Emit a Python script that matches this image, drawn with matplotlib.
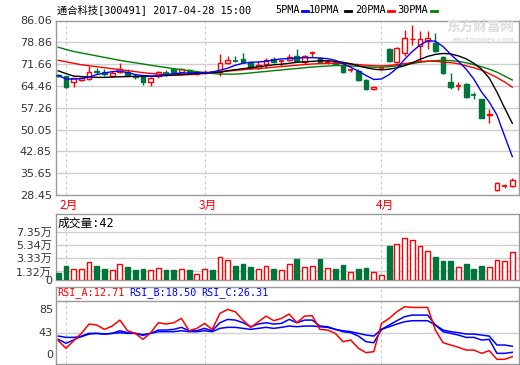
import matplotlib
matplotlib.use("Agg")
import matplotlib.pyplot as plt
from matplotlib.lines import Line2D
from matplotlib.transforms import blended_transform_factory

plt.rcParams['font.family'] = ['DejaVu Sans', 'Noto Sans CJK SC']

# 通合科技 daily bars, 2017-01-26 .. 2017-04-28 (60 sessions)
opens = [68.0, 67.6, 65.66, 66.3, 66.74, 69.5, 68.9, 67.8, 68.9, 69.1,
         67.7, 67.6, 65.9, 67.8, 69.0, 70.0, 69.1, 69.8, 68.4, 68.7,
         69.2, 68.92, 72.16, 72.8, 73.24, 72.2, 70.4, 71.6, 73.24, 72.4,
         73.0, 74.5, 72.2, 75.0, 73.8, 72.2, 72.7, 70.9, 69.5, 69.4,
         66.5, 63.6, 70.5, 76.5, 72.2, 75.4, 79.8, 77.5, 79.2, 78.7,
         74.0, 65.7, 64.4, 65.1, 61.5, 60.06, 55.0, 30.13, 31.35, 31.45]
highs = [68.3, 67.9, 67.2, 67.5, 71.07, 70.5, 69.9, 69.3, 72.15, 70.2,
         68.4, 67.9, 67.3, 69.5, 69.7, 70.4, 70.4, 70.2, 69.5, 69.8,
         69.4, 74.86, 74.3, 74.3, 75.2, 72.4, 72.7, 73.8, 74.1, 72.9,
         74.86, 76.5, 74.6, 75.9, 74.1, 72.9, 73.0, 71.2, 70.5, 70.0,
         66.8, 64.4, 70.5, 77.0, 77.3, 83.0, 84.6, 82.7, 82.7, 81.9,
         74.3, 68.6, 65.7, 65.4, 62.4, 60.3, 56.75, 32.86, 32.1, 33.99]
lows = [67.3, 63.9, 64.0, 66.0, 66.5, 68.4, 67.6, 67.5, 68.6, 67.6,
        66.7, 64.9, 64.6, 67.0, 67.8, 69.0, 68.9, 68.7, 68.2, 68.4,
        68.7, 67.6, 71.6, 72.2, 72.2, 70.2, 70.0, 70.5, 72.0, 71.1,
        72.8, 72.5, 71.6, 74.1, 72.2, 71.6, 71.4, 68.7, 68.9, 66.2,
        63.0, 63.1, 70.5, 72.5, 71.9, 74.3, 78.1, 72.3, 76.5, 75.6,
        68.3, 63.5, 63.2, 60.5, 60.2, 53.8, 52.33, 29.9, 30.68, 31.2]
closes = [67.6, 64.0, 66.96, 66.96, 69.2, 69.2, 68.5, 68.7, 69.99, 68.1,
          67.3, 65.9, 67.0, 69.1, 68.8, 69.2, 70.2, 68.9, 69.1, 69.2,
          69.0, 71.94, 73.0, 72.6, 72.36, 70.5, 71.3, 73.0, 72.2, 72.6,
          74.1, 72.7, 74.3, 75.2, 72.5, 72.4, 71.7, 69.2, 69.7, 66.5,
          63.3, 64.1, 70.5, 72.7, 77.0, 80.3, 80.1, 80.0, 80.3, 75.9,
          68.6, 64.2, 64.6, 60.8, 61.3, 53.98, 55.3, 32.33, 31.55, 33.42]

ma5 = [67.88, 66.74, 66.74, 66.90, 67.39, 68.20, 68.69, 69.18, 69.34, 68.85,
       68.20, 67.88, 67.71, 67.88, 68.20, 68.53, 68.69, 68.69, 68.85, 68.85,
       69.01, 69.66, 70.31, 71.29, 71.94, 72.26, 72.36, 72.58, 73.07, 73.40,
       73.46, 73.66, 73.79, 73.79, 73.66, 73.46, 72.91, 71.77, 70.64, 69.34,
       67.88, 66.58, 66.74, 68.20, 70.31, 73.23, 75.83, 77.94, 79.40, 79.24,
       77.46, 74.86, 72.58, 69.99, 66.74, 62.46, 59.16, 54.87, 47.94, 41.11]
ma10 = [69.44, 68.53, 67.71, 67.55, 67.39, 67.29, 67.29, 67.39, 67.49, 67.55,
        67.62, 67.62, 67.62, 67.71, 67.88, 68.04, 68.20, 68.36, 68.53, 68.69,
        68.85, 69.01, 69.50, 69.82, 70.15, 70.47, 70.80, 71.12, 71.45, 71.61,
        71.94, 72.26, 72.42, 72.58, 72.75, 72.75, 72.58, 72.26, 71.77, 71.12,
        70.47, 69.99, 69.76, 69.99, 70.47, 71.12, 72.10, 73.23, 74.21, 74.86,
        75.18, 75.02, 74.37, 73.40, 71.94, 69.99, 67.07, 62.46, 57.18, 52.14]
ma20 = [72.91, 72.42, 71.94, 71.45, 71.12, 70.80, 70.47, 70.15, 69.82, 69.50,
        69.18, 68.85, 68.59, 68.36, 68.20, 68.04, 68.04, 68.20, 68.36, 68.59,
        68.85, 69.08, 69.34, 69.57, 69.82, 70.05, 70.21, 70.41, 70.64, 70.86,
        71.06, 71.29, 71.51, 71.71, 71.84, 71.94, 71.94, 71.84, 71.68, 71.51,
        71.29, 71.12, 71.06, 71.19, 71.51, 71.84, 72.16, 72.49, 72.68, 72.58,
        72.36, 72.16, 71.77, 71.12, 70.47, 69.66, 68.53, 67.23, 65.77, 64.05]
ma30 = [77.23, 76.48, 75.83, 75.34, 74.86, 74.37, 73.88, 73.40, 72.91, 72.49,
        72.10, 71.71, 71.29, 70.90, 70.54, 70.15, 69.82, 69.50, 69.18, 68.85,
        68.59, 68.36, 68.36, 68.36, 68.53, 68.75, 69.01, 69.24, 69.50, 69.73,
        69.99, 70.21, 70.47, 70.70, 70.86, 71.03, 71.19, 71.19, 71.06, 70.90,
        70.73, 70.64, 70.64, 70.80, 71.12, 71.45, 71.84, 72.26, 72.58, 72.81,
        72.91, 72.81, 72.58, 72.10, 71.51, 70.80, 69.99, 69.01, 67.71, 66.42]

# volume in 万手
volume = [1.09, 2.18, 1.65, 1.65, 2.72, 2.18, 1.65, 1.48, 2.46, 2.02,
          1.53, 1.65, 1.48, 1.91, 1.53, 1.53, 1.74, 1.53, 0.99, 1.65,
          1.53, 3.60, 3.11, 2.18, 2.40, 2.02, 1.74, 2.18, 1.65, 1.48,
          2.46, 3.16, 2.02, 2.18, 3.16, 1.81, 1.65, 2.35, 1.21, 1.65,
          1.86, 1.21, 0.83, 5.28, 5.56, 6.54, 6.10, 5.28, 4.42, 3.49,
          3.00, 3.00, 2.02, 2.46, 1.69, 2.18, 2.02, 3.11, 3.00, 4.25]

rsi_a = [33.5, 23.6, 33.5, 43.0, 55.1, 53.8, 48.1, 52.5, 60.2, 46.4,
         43.0, 35.2, 43.8, 56.8, 55.1, 56.8, 62.4, 46.4, 49.4, 55.9,
         48.1, 68.8, 74.0, 71.0, 60.2, 50.7, 58.0, 65.4, 59.4, 62.4,
         68.0, 56.8, 65.4, 65.9, 48.1, 47.3, 43.0, 32.2, 34.4, 23.6,
         18.0, 19.3, 55.9, 62.4, 71.0, 77.5, 76.6, 76.6, 76.6, 47.3,
         30.9, 27.9, 24.9, 21.4, 21.4, 17.1, 20.6, 9.4, 9.4, 12.71]
rsi_b = [35.2, 30.1, 34.4, 39.5, 43.0, 43.0, 42.1, 43.0, 46.4, 43.9,
         43.0, 40.4, 43.0, 47.3, 47.3, 48.2, 50.8, 46.4, 46.4, 49.5,
         46.4, 56.8, 61.1, 60.2, 56.8, 51.6, 55.1, 56.8, 55.1, 55.9,
         61.1, 56.8, 60.2, 60.2, 52.5, 51.6, 48.2, 45.2, 43.9, 39.5,
         32.2, 30.9, 48.2, 53.8, 59.4, 64.6, 66.7, 66.7, 66.7, 53.8,
         45.2, 43.0, 40.8, 37.8, 37.8, 34.4, 35.2, 17.1, 17.1, 18.50]
rsi_c = [39.5, 37.8, 37.8, 38.7, 42.1, 43.0, 42.1, 43.0, 43.9, 43.0,
         43.0, 41.3, 43.0, 45.2, 45.2, 45.2, 46.4, 45.2, 45.2, 46.4,
         45.2, 49.5, 50.8, 50.8, 49.5, 48.2, 49.5, 50.8, 49.5, 50.8,
         52.5, 51.6, 52.5, 52.5, 51.6, 50.8, 48.2, 46.4, 45.2, 43.0,
         40.8, 39.5, 48.2, 51.6, 55.1, 58.1, 59.4, 59.4, 59.4, 53.8,
         47.3, 45.2, 43.9, 42.1, 42.1, 40.8, 39.5, 27.9, 27.9, 26.31]

price_ticks = [86.06, 78.86, 71.66, 64.46, 57.26, 50.05, 42.85, 35.65, 28.45]
vol_ticks = [0, 1.32, 3.33, 5.34, 7.35]
vol_labels = ['0', '1.32万', '3.33万', '5.34万', '7.35万']
month_idx = [1, 19, 42]
month_labels = ['2月', '3月', '4月']

RED = '#ff0000'
GREEN = '#00753a'
GRID = '#cfcfcf'
FRAME = '#9a9a9a'
TXT = '#333333'
W, H = 520, 365


def fx(px):
    return px / W


def fy(py):
    return 1 - py / H


fig = plt.figure(figsize=(5.2, 3.65), dpi=100)
fig.patch.set_facecolor('white')


def panel(top, bottom):
    a = fig.add_axes([fx(56), fy(bottom), fx(519) - fx(56), (bottom - top) / H])
    a.set_xlim(-0.3, 59.87)
    a.set_xticks([])
    for s in a.spines.values():
        s.set_color(FRAME)
        s.set_linewidth(1)
    a.tick_params(axis='y', length=0, labelsize=8, labelcolor=TXT, pad=3)
    for m in month_idx:
        a.axvline(m, color='#c8c8c8', lw=0.8, ls=(0, (2.5, 2.5)), zorder=0)
    return a


n = len(closes)
xs = list(range(n))

# watermark (behind the price panel)
fig.text(fx(446), fy(27), '东方财富网', fontsize=9.8, fontweight='bold', va='center',
         color='#dcdcdc', family=['Noto Sans CJK SC'], zorder=0)
fig.text(fx(453), fy(40), 'eastmoney.com', fontsize=5.0, fontweight='bold', va='center',
         color='#e0e0e0', zorder=0)

# ---- price panel
ax = panel(20.5, 195)
ax.patch.set_alpha(0)
ax.set_ylim(28.45, 86.06)
ax.set_yticks(price_ticks)
ax.set_yticklabels(['%.2f' % t for t in price_ticks])
for t in price_ticks[1:-1]:
    ax.axhline(t, color=GRID, lw=1, zorder=0)

for i in xs:
    up = closes[i] >= opens[i]
    col = RED if up else GREEN
    lo, hi = min(opens[i], closes[i]), max(opens[i], closes[i])
    ax.vlines(i, lows[i], highs[i], color=col, lw=1, zorder=3)
    if hi - lo < 0.25:
        ax.hlines(closes[i], i - 0.33, i + 0.33, color=col, lw=1.3, zorder=4)
    else:
        ax.bar(i, hi - lo, bottom=lo, width=0.62, facecolor='white' if up else col,
               edgecolor=col, lw=1, zorder=4)

ax.plot(xs, ma30, color='#008000', lw=1, zorder=5)
ax.plot(xs, ma20, color=RED, lw=1, zorder=5)
ax.plot(xs, ma10, color='black', lw=1, zorder=5)
ax.plot(xs, ma5, color='#0000ff', lw=1, zorder=5)

tr = blended_transform_factory(ax.transData, ax.transAxes)
for m, lab in zip(month_idx, month_labels):
    ax.text(m - 0.8, -0.058, lab, transform=tr, ha='left', va='center',
            color=RED, fontsize=8.5, family=['Noto Sans CJK SC'])

# ---- volume panel
axv = panel(214, 280)
axv.set_ylim(0, 10.17)
axv.set_yticks(vol_ticks)
axv.set_yticklabels(vol_labels)
for t in vol_ticks[1:]:
    axv.axhline(t, color=GRID, lw=1, zorder=0)
for i in xs:
    up = closes[i] >= opens[i]
    col = RED if up else GREEN
    axv.bar(i, volume[i], width=0.62, facecolor='white' if up else col,
            edgecolor=col, lw=1, zorder=3)
axv.text(0.003, 0.86, '成交量:42', transform=axv.transAxes, ha='left', va='center',
         fontsize=8.5, color='black', family=['DejaVu Sans Mono', 'Noto Sans CJK SC'])

# ---- RSI panel
axr = panel(287, 364)
axr.set_ylim(3.3, 103.1)
axr.set_yticks([])
axr.axhline(43, color=GRID, lw=1, zorder=0)
axr.axhline(85, color=FRAME, lw=1, zorder=0)
axr.plot(xs, rsi_c, color='#0000ff', lw=1.1, zorder=3)
axr.plot(xs, rsi_b, color='#0000ff', lw=1.1, zorder=3)
axr.plot(xs, rsi_a, color=RED, lw=1.1, zorder=4)
for txt, x0, col in [('RSI_A:12.71', 57, RED), ('RSI_B:18.50', 129, '#0000ff'),
                     ('RSI_C:26.31', 201, '#0000ff')]:
    fig.text(fx(x0), fy(293), txt, color=col, fontsize=7.3, va='center',
             family=['DejaVu Sans Mono'])
for lab, py in [('85', 310), ('43', 333), ('0', 355)]:
    fig.text(fx(53), fy(py), lab, ha='right', va='center', fontsize=8, color=TXT)

# ---- header
mono = ['DejaVu Sans Mono', 'Noto Sans CJK SC']
fig.text(fx(57), fy(10), '通合科技[300491] 2017-04-28 15:00', fontsize=7.4,
         va='center', family=mono, color='black')
for lab, x0, dash_x, col in [('5PMA', 275, 302, '#0000ff'), ('10PMA', 309, 345, 'black'),
                             ('20PMA', 355, 388, RED), ('30PMA', 397, 431, '#008000')]:
    fig.text(fx(x0), fy(10), lab, fontsize=7.4, va='center', family=mono, color='black')
    fig.add_artist(Line2D([fx(dash_x), fx(dash_x + 6)], [fy(11), fy(11)], color=col, lw=2))

fig.savefig('out.png', dpi=100, facecolor='white')
